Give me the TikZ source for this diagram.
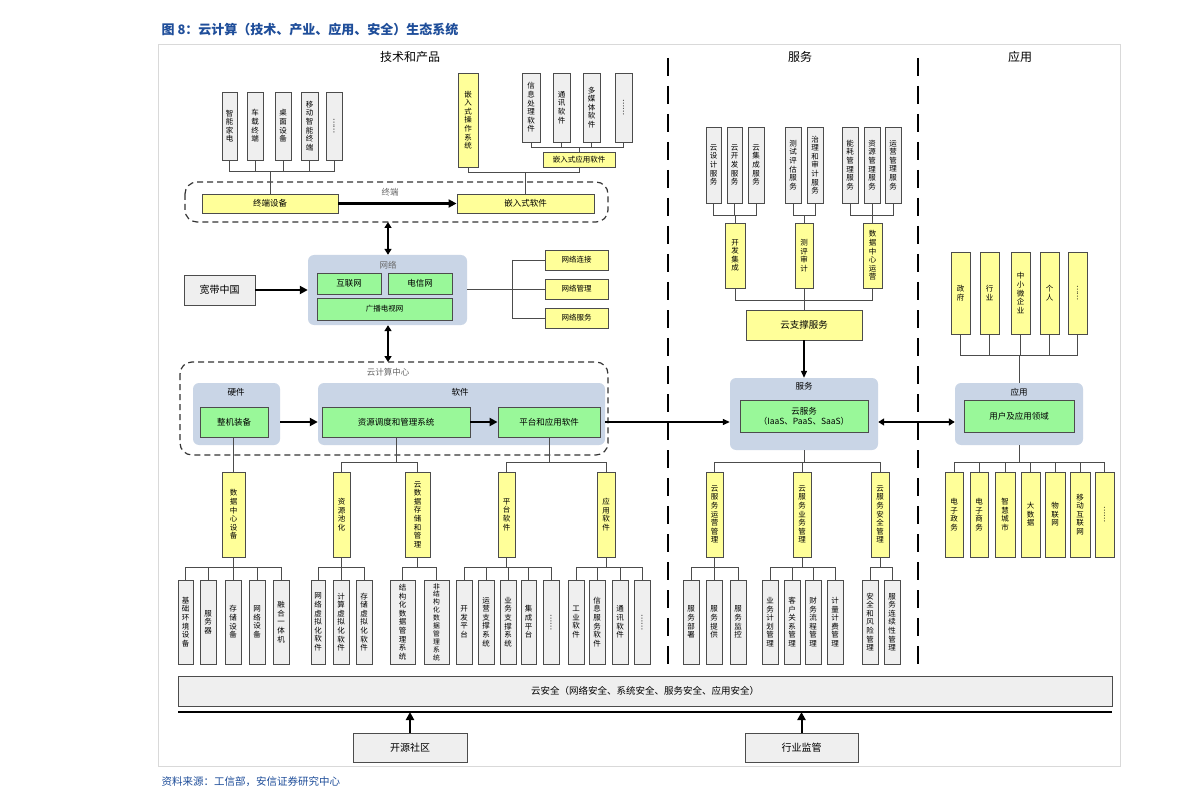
\documentclass[tikz,border=0pt]{standalone}
\usepackage{fontspec}
\setmainfont{Noto Sans CJK SC}
\XeTeXlinebreaklocale "zh"
\XeTeXlinebreakskip=0pt plus 1pt
\usetikzlibrary{arrows.meta}
\definecolor{yel}{HTML}{FFFF99}
\definecolor{grb}{HTML}{EFEFEF}
\definecolor{grn}{HTML}{99F899}
\definecolor{blu}{HTML}{C9D5E6}
\definecolor{ttl}{HTML}{1F4E9A}
\tikzset{
 base/.style={draw=black!70,line width=0.9pt,inner sep=0pt,align=center,font=\fontsize{7.5}{8.6}\selectfont},
 gb/.style={base,fill=grb},
 yb/.style={base,fill=yel},
 gn/.style={base,fill=grn,font=\fontsize{8.5}{10}\selectfont},
 bl/.style={fill=blu,rounded corners=6pt,draw=none,inner sep=0pt},
 dbox/.style={draw=black!80,dashed,dash pattern=on 6pt off 4pt,line width=1.2pt,rounded corners=12pt},
 ln/.style={draw=black!70,line width=0.9pt},
 big/.style={-{Triangle[length=8pt,width=8pt]},line width=2.5pt},
 dbl/.style={{Triangle[length=6pt,width=7pt]}-{Triangle[length=6pt,width=7pt]},line width=2pt},
 lab/.style={font=\fontsize{8.5}{10}\selectfont,text=black!60},
}
% name, style, x1, y1, x2, y2, text
\newcommand\BX[7]{\node[#2,minimum width={(#5-#3)*1pt},minimum height={(#6-#4)*1pt}] (#1) at ({(#3+#5)/2},{(#4+#6)/2}) {#7};}
\newcommand\VT[7]{\node[#2,text width=8pt,minimum width={(#5-#3)*1pt},minimum height={(#6-#4)*1pt}] (#1) at ({(#3+#5)/2},{(#4+#6)/2}) {#7};}
\newcommand\vdt{\rotatebox{-90}{……}}
% parent below children: parent, bus y, children
\newcommand\UP[3]{\foreach \c in {#3}{\draw[ln] (#1.north) -- (#1.north|-{0,#2}) -| (\c.south);}}
\newcommand\DN[3]{\foreach \c in {#3}{\draw[ln] (#1.south) -- (#1.south|-{0,#2}) -| (\c.north);}}
\begin{document}
\begin{tikzpicture}[x=1pt,y=-1pt]
\useasboundingbox (0,0) rectangle (1191,810);
\fill[white] (0,0) rectangle (1191,810);
\draw[black!15,line width=0.6pt] (158,44) rectangle (1120,766);
\node[anchor=west,font=\fontsize{13}{15}\selectfont\bfseries,text=ttl] (title) at (158,30) {图 8：云计算（技术、产业、应用、安全）生态系统};
\node[anchor=west,font=\fontsize{10.5}{12}\selectfont\itshape,text=ttl] (src) at (158,782) {资料来源：工信部，安信证券研究中心};
\node[font=\fontsize{12}{14}\selectfont] (h1) at (410,57) {技术和产品};
\node[font=\fontsize{12}{14}\selectfont] (h2) at (800,57) {服务};
\node[font=\fontsize{12}{14}\selectfont] (h3) at (1020,57) {应用};
\draw[line width=2.5pt,dash pattern=on 18pt off 10pt] (668,58) -- (668,672);
\draw[line width=2.5pt,dash pattern=on 18pt off 10pt] (918,58) -- (918,672);
% ---- terminal
\draw[dbox] (185,182) rectangle (608,222);
\node[lab] (lt) at (390,192) {终端};
\VT{t1}{gb}{222}{92}{237}{160}{智能家电}
\VT{t2}{gb}{247}{92}{263}{160}{车载终端}
\VT{t3}{gb}{275}{92}{291}{160}{桌面设备}
\VT{t4}{gb}{301}{92}{318}{160}{移动智能终端}
\VT{t5}{gb}{326}{92}{342}{160}{\vdt}
\BX{td}{yb}{202}{194}{338}{213}{\fontsize{8.5}{10}\selectfont 终端设备}
\BX{es}{yb}{457}{194}{594}{213}{\fontsize{8.5}{10}\selectfont 嵌入式软件}
\VT{eos}{yb}{458}{73}{478}{167}{嵌入式操作系统}
\VT{i1}{gb}{522}{73}{540}{142}{信息处理软件}
\VT{i2}{gb}{553}{73}{570}{142}{通讯软件}
\VT{i3}{gb}{583}{73}{600}{142}{多媒体软件}
\VT{i4}{gb}{615}{73}{632}{142}{\vdt}
\BX{ea}{yb}{543}{152}{615}{167}{嵌入式应用软件}
\UP{td}{171}{t1,t2,t3,t4,t5}
\UP{es}{172}{eos,ea}
\UP{ea}{147}{i1,i2,i3,i4}
\draw[big] (td) -- (es);
% ---- network
\BX{net}{bl}{308}{255}{467}{325}{}
\node[lab] (ln) at (388,265) {网络};
\BX{n1}{gn}{317}{273}{381}{294}{互联网}
\BX{n2}{gn}{388}{273}{452}{294}{电信网}
\BX{n3}{gn}{317}{298}{452}{320}{\fontsize{7.5}{9}\selectfont 广播电视网}
\BX{kd}{gb}{184}{275}{255}{305}{\fontsize{10}{12}\selectfont 宽带中国}
\draw[big] (kd) -- (net);
\BX{w1}{yb}{545}{250}{608}{270}{网络连接}
\BX{w2}{yb}{545}{279}{608}{299}{网络管理}
\BX{w3}{yb}{545}{308}{608}{328}{网络服务}
\coordinate (nb) at (512,289);
\draw[ln] (net.east|-nb) -- (nb);
\draw[ln] (nb|-w1.west) -- (nb|-w3.west);
\foreach \c in {w1,w2,w3}{\draw[ln] (nb|-\c.west) -- (\c.west);}
\coordinate (ta) at (388,222);
\draw[dbl] (ta) -- (net.north-|ta);
% ---- cloud center
\draw[dbox] (180,362) rectangle (608,455);
\coordinate (cc) at (388,362);
\draw[dbl] (net.south-|cc) -- (cc);
\node[lab] (lc) at (388,372) {云计算中心};
\BX{hw}{bl}{193}{383}{280}{445}{}
\node[font=\fontsize{8.5}{10}\selectfont] (lh) at (236,392) {硬件};
\BX{zj}{gn}{200}{407}{268}{437}{整机装备}
\BX{sw}{bl}{318}{383}{605}{445}{}
\node[font=\fontsize{8.5}{10}\selectfont] (ls) at (460,392) {软件};
\BX{zy}{gn}{322}{407}{470}{437}{资源调度和管理系统}
\BX{pt}{gn}{498}{407}{600}{437}{平台和应用软件}
\draw[big] (hw.east|-zj) -- (sw.west|-zj);
\draw[big] (zy) -- (pt);
% ---- lower left trees
\VT{d1}{yb}{222}{472}{245}{557}{数据中心设备}
\VT{d2}{yb}{333}{472}{350}{557}{资源池化}
\VT{d3}{yb}{405}{472}{430}{557}{云数据存储和管理}
\VT{d4}{yb}{498}{472}{515}{557}{平台软件}
\VT{d5}{yb}{597}{472}{615}{557}{应用软件}
\draw[ln] (zj.south-|d1) -- (d1.north);
\draw[ln] (zy.south) -- (zy.south|-{0,462}) -| (d2.north);
\draw[ln] (zy.south) -- (zy.south|-{0,462}) -| (d3.north);
\draw[ln] (pt.south) -- (pt.south|-{0,462}) -| (d4.north);
\draw[ln] (pt.south) -- (pt.south|-{0,462}) -| (d5.north);
\VT{a1}{gb}{178}{580}{193}{664}{基础环境设备}
\VT{a2}{gb}{200}{580}{216}{664}{服务器}
\VT{a3}{gb}{225}{580}{241}{664}{存储设备}
\VT{a4}{gb}{249}{580}{265}{664}{网络设备}
\VT{a5}{gb}{273}{580}{289}{664}{融合一体机}
\DN{d1}{567}{a1,a2,a3,a4,a5}
\VT{b1}{gb}{311}{580}{325}{664}{网络虚拟化软件}
\VT{b2}{gb}{333}{580}{349}{664}{计算虚拟化软件}
\VT{b3}{gb}{356}{580}{372}{664}{存储虚拟化软件}
\DN{d2}{567}{b1,b2,b3}
\VT{c1}{gb}{390}{580}{415}{664}{结构化数据管理系统}
\VT{c2}{gb,font=\fontsize{6.8}{7.9}\selectfont}{424}{580}{449}{664}{非结构化数据管理系统}
\DN{d3}{567}{c1,c2}
\VT{e1}{gb}{456}{580}{472}{664}{开发平台}
\VT{e2}{gb}{478}{580}{494}{664}{运营支撑系统}
\VT{e3}{gb}{500}{580}{516}{664}{业务支撑系统}
\VT{e4}{gb}{521}{580}{536}{664}{集成平台}
\VT{e5}{gb}{543}{580}{559}{664}{\vdt}
\DN{d4}{567}{e1,e2,e3,e4,e5}
\VT{f1}{gb}{568}{580}{584}{664}{工业软件}
\VT{f2}{gb}{589}{580}{605}{664}{信息服务软件}
\VT{f3}{gb}{612}{580}{628}{664}{通讯软件}
\VT{f4}{gb}{634}{580}{650}{664}{\vdt}
\DN{d5}{567}{f1,f2,f3,f4}
% ---- service
\VT{s1}{gb}{706}{127}{721}{203}{云设计服务}
\VT{s2}{gb}{727}{127}{742}{203}{云开发服务}
\VT{s3}{gb}{748}{127}{764}{203}{云集成服务}
\VT{s4}{gb}{785}{127}{801}{203}{测试评估服务}
\VT{s5}{gb}{807}{127}{823}{203}{治理和审计服务}
\VT{s6}{gb}{842}{127}{858}{203}{能耗管理服务}
\VT{s7}{gb}{864}{127}{880}{203}{资源管理服务}
\VT{s8}{gb}{885}{127}{901}{203}{运营管理服务}
\VT{k1}{yb}{725}{223}{745}{288}{开发集成}
\VT{k2}{yb}{795}{223}{813}{288}{测评审计}
\VT{k3}{yb}{863}{223}{882}{288}{数据中心运营}
\UP{k1}{215}{s1,s2,s3}
\UP{k2}{215}{s4,s5}
\UP{k3}{215}{s6,s7,s8}
\BX{zc}{yb}{746}{310}{862}{340}{\fontsize{9.5}{11}\selectfont 云支撑服务}
\UP{zc}{300}{k1,k2,k3}
\BX{fw}{bl}{730}{378}{878}{450}{}
\node[font=\fontsize{8.5}{10}\selectfont] (lf) at (804,386) {服务};
\BX{yf}{gn}{740}{400}{868}{432}{云服务\\（IaaS、PaaS、SaaS）}
\draw[-{Triangle[length=7pt,width=6pt]},line width=1.3pt] (zc.south) -- (fw.north);
\draw[-{Triangle[length=7pt,width=6pt]},line width=1.3pt] (sw.east|-zj) -- (fw.west|-zj);
\VT{m1}{yb}{706}{472}{723}{557}{云服务运营管理}
\VT{m2}{yb}{793}{472}{811}{557}{云服务业务管理}
\VT{m3}{yb}{871}{472}{889}{557}{云服务安全管理}
\DN{fw}{462}{m1,m2,m3}
\VT{p1}{gb}{683}{580}{699}{664}{服务部署}
\VT{p2}{gb}{706}{580}{722}{664}{服务提供}
\VT{p3}{gb}{730}{580}{746}{664}{服务监控}
\DN{m1}{567}{p1,p2,p3}
\VT{q1}{gb}{762}{580}{778}{664}{业务计划管理}
\VT{q2}{gb}{784}{580}{800}{664}{客户关系管理}
\VT{q3}{gb}{805}{580}{821}{664}{财务流程管理}
\VT{q4}{gb}{827}{580}{843}{664}{计量计费管理}
\DN{m2}{567}{q1,q2,q3,q4}
\VT{r1}{gb}{862}{580}{878}{664}{安全和风险管理}
\VT{r2}{gb}{884}{580}{900}{664}{服务连续性管理}
\DN{m3}{567}{r1,r2}
% ---- application
\VT{u1}{yb}{951}{252}{970}{334}{政府}
\VT{u2}{yb}{980}{252}{999}{334}{行业}
\VT{u3}{yb}{1011}{252}{1030}{334}{中小微企业}
\VT{u4}{yb}{1040}{252}{1059}{334}{个人}
\VT{u5}{yb}{1068}{252}{1087}{334}{\vdt}
\BX{yy}{bl}{955}{383}{1083}{445}{}
\node[font=\fontsize{8.5}{10}\selectfont] (ly) at (1019,392) {应用};
\BX{yl}{gn}{964}{400}{1074}{432}{用户及应用领域}
\UP{yy}{355}{u1,u2,u3,u4,u5}
\draw[dbl,line width=1.8pt] (fw.east|-zj) -- (yy.west|-zj);
\VT{v1}{yb}{945}{472}{963}{557}{电子政务}
\VT{v2}{yb}{970}{472}{988}{557}{电子商务}
\VT{v3}{yb}{995}{472}{1015}{557}{智慧城市}
\VT{v4}{yb}{1021}{472}{1040}{557}{大数据}
\VT{v5}{yb}{1045}{472}{1065}{557}{物联网}
\VT{v6}{yb}{1070}{472}{1090}{557}{移动互联网}
\VT{v7}{yb}{1095}{472}{1114}{557}{\vdt}
\DN{yy}{462}{v1,v2,v3,v4,v5,v6,v7}
% ---- bottom
\BX{aq}{gb}{178}{676}{1112}{706}{\fontsize{9.5}{11}\selectfont 云安全（网络安全、系统安全、服务安全、应用安全）}
\draw[line width=2.5pt] (178,712) coordinate (bl1) -- (1112,712) coordinate (bl2);
\BX{ky}{gb}{353}{733}{467}{762}{\fontsize{10}{12}\selectfont 开源社区}
\BX{hy}{gb}{745}{733}{858}{762}{\fontsize{10}{12}\selectfont 行业监管}
\draw[big,line width=2pt] (ky.north) -- (ky.north|-bl1);
\draw[big,line width=2pt] (hy.north) -- (hy.north|-bl1);
\end{tikzpicture}
\end{document}
